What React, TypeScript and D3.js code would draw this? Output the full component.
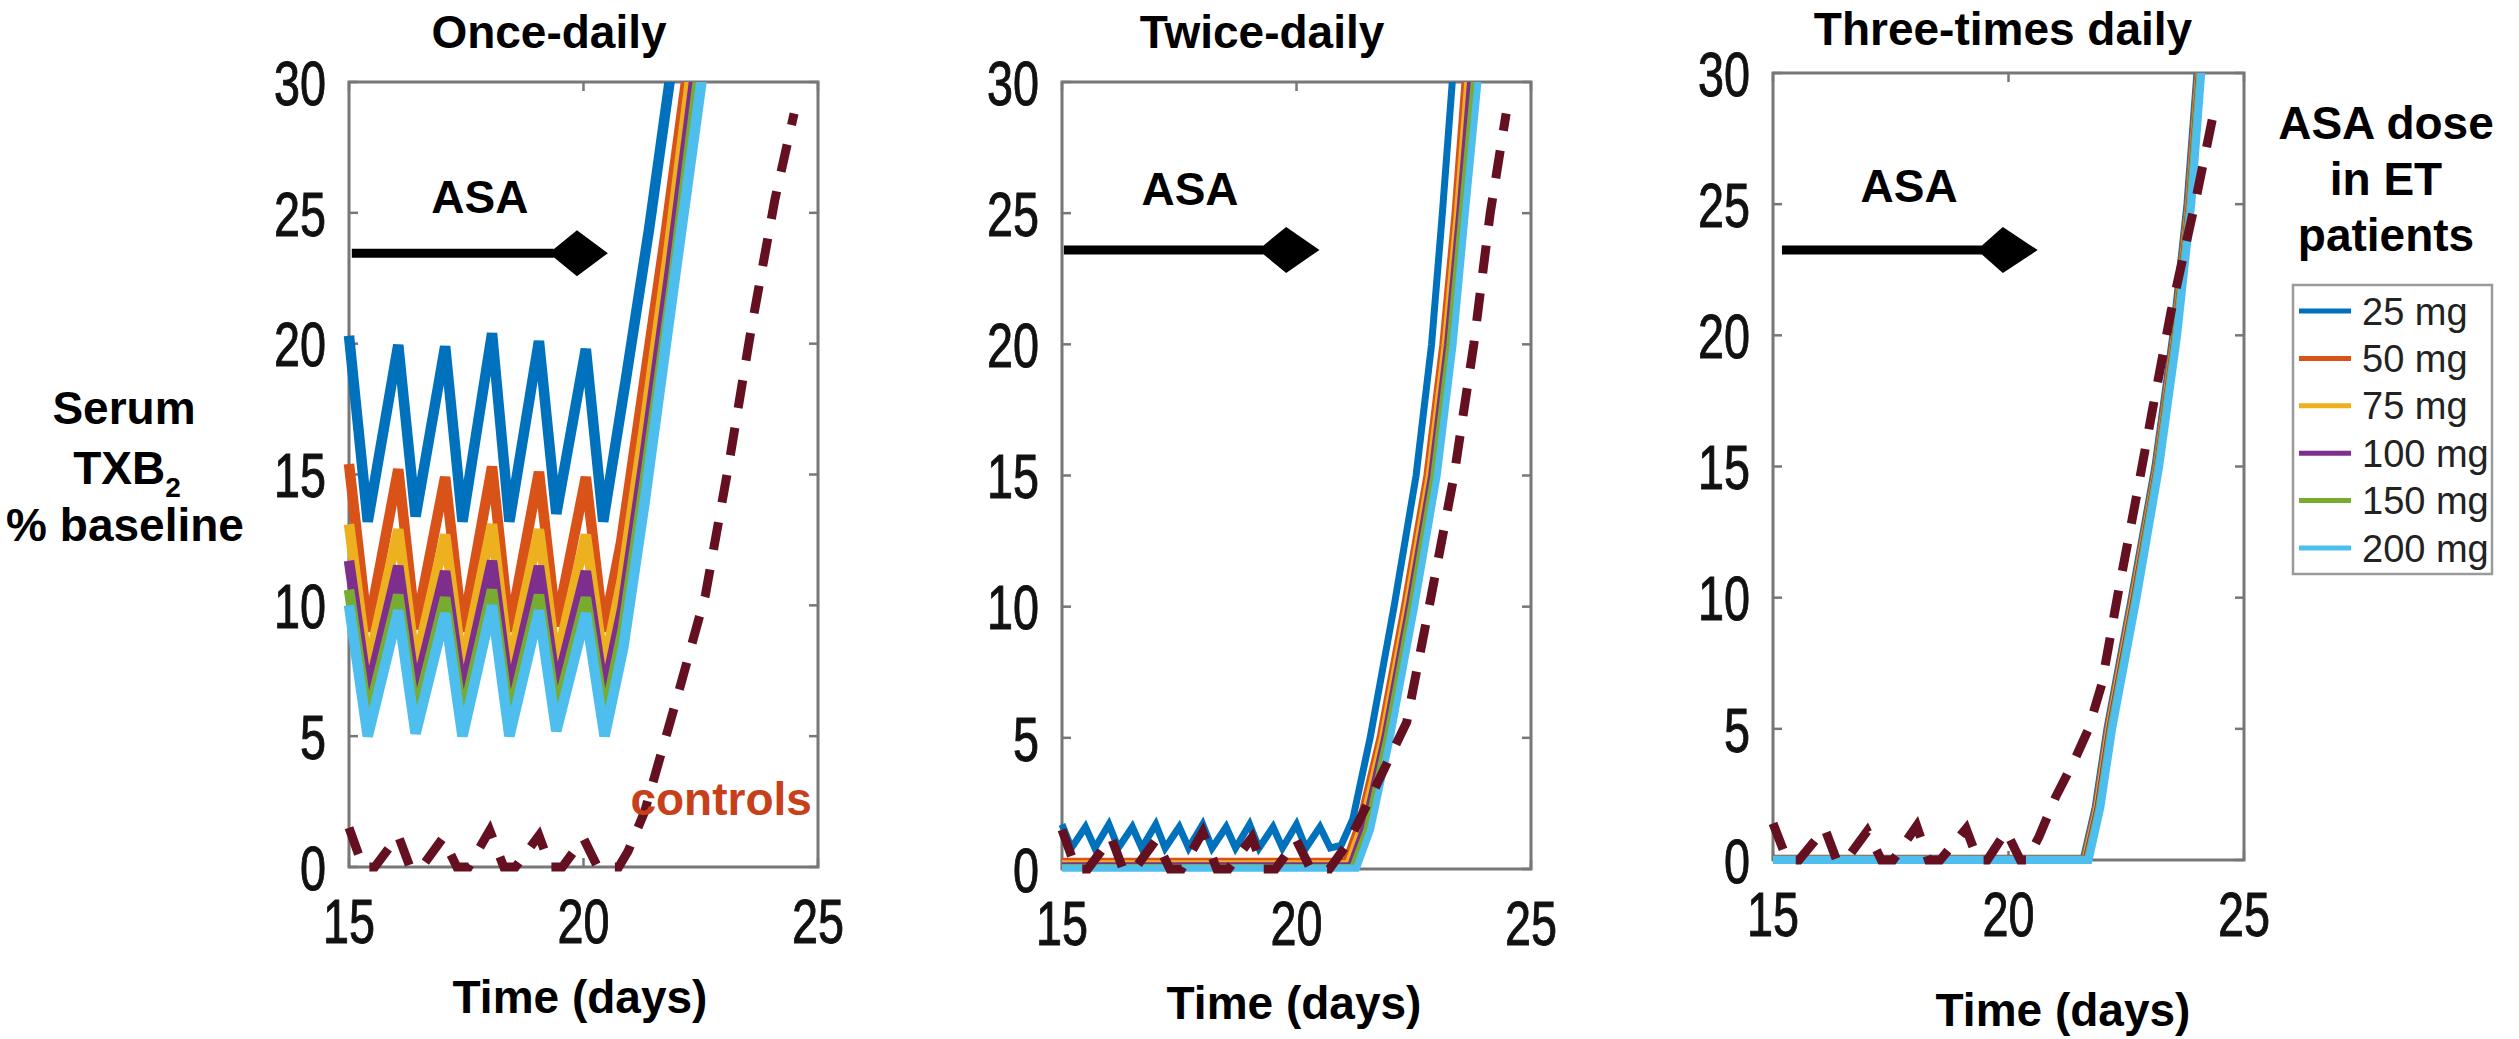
import React from 'react';
import * as d3 from 'd3';

type Pt = [number, number];

// ---------- data ----------
const doseLabels = ['25 mg', '50 mg', '75 mg', '100 mg', '150 mg', '200 mg'];
const doseColors = ['#0072BD', '#D95319', '#EDB120', '#7E2F8E', '#77AC30', '#4DBEEE'];
const panelTitles = ['Once-daily', 'Twice-daily', 'Three-times daily'];
const xTickValues = [15, 20, 25];
const yTickValues = [0, 5, 10, 15, 20, 25, 30];
const xDomain: Pt = [15, 25];
const yDomain: Pt = [0, 30];

// Once-daily
const once25: Pt[] = [[15.0, 20.3], [15.4, 13.2], [16.05, 19.95], [16.42, 13.4], [17.05, 19.9], [17.42, 13.2], [18.05, 20.4], [18.42, 13.2], [19.05, 20.1], [19.42, 13.5], [20.05, 19.8], [20.42, 13.2], [20.9, 18.6], [21.4, 24.4], [21.85, 30.2]];
const once50: Pt[] = [[15.0, 15.4], [15.4, 9.0], [16.05, 15.2], [16.42, 9.1], [17.05, 14.9], [17.42, 9.0], [18.05, 15.3], [18.42, 9.0], [19.05, 15.1], [19.42, 9.2], [20.05, 14.9], [20.43, 9.0], [20.8, 12.4], [21.3, 18.6], [21.75, 24.2], [22.2, 30.2]];
const once75: Pt[] = [[15.0, 13.1], [15.4, 7.6], [16.05, 12.9], [16.42, 7.7], [17.05, 12.7], [17.42, 7.6], [18.05, 13.1], [18.42, 7.6], [19.05, 12.9], [19.42, 7.8], [20.05, 12.7], [20.44, 7.6], [20.82, 11.0], [21.3, 16.9], [21.8, 23.4], [22.28, 30.2]];
const once100: Pt[] = [[15.0, 11.7], [15.4, 6.6], [16.05, 11.5], [16.42, 6.7], [17.05, 11.3], [17.42, 6.6], [18.05, 11.7], [18.42, 6.6], [19.05, 11.5], [19.42, 6.8], [20.05, 11.3], [20.44, 6.6], [20.83, 9.9], [21.3, 15.7], [21.85, 22.9], [22.37, 30.2]];
const once150: Pt[] = [[15.0, 10.6], [15.4, 5.7], [16.05, 10.4], [16.42, 5.8], [17.05, 10.3], [17.42, 5.7], [18.05, 10.6], [18.42, 5.7], [19.05, 10.4], [19.42, 5.9], [20.05, 10.3], [20.45, 5.7], [20.84, 9.1], [21.3, 14.7], [21.9, 22.4], [22.45, 30.2]];
const once200: Pt[] = [[15.0, 10.0], [15.4, 5.0], [16.05, 9.8], [16.42, 5.1], [17.05, 9.7], [17.42, 5.0], [18.05, 10.0], [18.42, 5.0], [19.05, 9.8], [19.42, 5.2], [20.05, 9.7], [20.45, 5.0], [20.85, 8.4], [21.3, 13.9], [21.9, 21.9], [22.53, 30.2]];

// Twice-daily
const twice25: Pt[] = [[15.0, 1.7], [15.2, 0.8], [15.5, 1.6], [15.7, 0.8], [16.0, 1.7], [16.2, 0.8], [16.5, 1.6], [16.7, 0.8], [17.0, 1.7], [17.2, 0.8], [17.5, 1.6], [17.7, 0.8], [18.0, 1.7], [18.2, 0.8], [18.5, 1.6], [18.7, 0.8], [19.0, 1.7], [19.2, 0.8], [19.5, 1.6], [19.7, 0.8], [20.0, 1.7], [20.2, 0.8], [20.5, 1.6], [20.72, 0.8], [20.95, 0.9], [21.2, 1.9], [21.57, 5], [22.08, 10], [22.55, 15], [22.88, 20], [23.11, 25], [23.33, 30.2]];
const twice50: Pt[] = [[15, 0.3], [21.05, 0.3], [21.35, 1.8], [21.78, 5], [22.3, 10], [22.78, 15], [23.12, 20], [23.38, 25], [23.6, 30.2]];
const twice75: Pt[] = [[15, 0.2], [21.1, 0.2], [21.4, 1.7], [21.83, 5], [22.35, 10], [22.83, 15], [23.17, 20], [23.43, 25], [23.66, 30.2]];
const twice100: Pt[] = [[15, 0.12], [21.15, 0.12], [21.45, 1.6], [21.88, 5], [22.4, 10], [22.88, 15], [23.22, 20], [23.48, 25], [23.72, 30.2]];
const twice150: Pt[] = [[15, 0.06], [21.2, 0.06], [21.5, 1.5], [21.93, 5], [22.45, 10], [22.93, 15], [23.27, 20], [23.53, 25], [23.8, 30.2]];
const twice200: Pt[] = [[15, 0.03], [21.28, 0.03], [21.58, 1.5], [22.0, 5], [22.52, 10], [23.0, 15], [23.34, 20], [23.6, 25], [23.88, 30.2]];

// Three-times daily
const thrice25: Pt[] = [[15, 0.05], [21.6, 0.05], [21.85, 2], [22.1, 5], [22.62, 10], [23.12, 15], [23.5, 20], [23.8, 25], [24.02, 30.2]];
const thrice50: Pt[] = [[15, 0.04], [21.62, 0.04], [21.87, 2], [22.12, 5], [22.64, 10], [23.14, 15], [23.52, 20], [23.82, 25], [24.04, 30.2]];
const thrice75: Pt[] = [[15, 0.03], [21.64, 0.03], [21.89, 2], [22.14, 5], [22.66, 10], [23.16, 15], [23.54, 20], [23.84, 25], [24.06, 30.2]];
const thrice100: Pt[] = [[15, 0.02], [21.66, 0.02], [21.91, 2], [22.16, 5], [22.68, 10], [23.17, 15], [23.55, 20], [23.85, 25], [24.07, 30.2]];
const thrice150: Pt[] = [[15, 0.01], [21.68, 0.01], [21.93, 2], [22.18, 5], [22.7, 10], [23.18, 15], [23.56, 20], [23.86, 25], [24.08, 30.2]];
const thrice200: Pt[] = [[15, 0.0], [21.7, 0.0], [21.95, 2], [22.2, 5], [22.72, 10], [23.2, 15], [23.58, 20], [23.88, 25], [24.1, 30.2]];

// Controls (dashed)
const controlsOnce: Pt[] = [[15.0, 1.5], [15.3, 0], [15.55, 0], [16.05, 1.2], [16.3, 0], [16.55, 0], [17.0, 1.1], [17.3, 0], [17.55, 0], [18.0, 1.4], [18.3, 0], [18.55, 0], [19.05, 1.2], [19.3, 0], [19.55, 0], [20.0, 1.1], [20.3, 0], [20.75, 0], [20.95, 0.6], [21.3, 2.1], [22.0, 6.5], [22.6, 10.4], [23.1, 15.4], [23.57, 20.5], [24.08, 25.5], [24.49, 28.8]];
const controlsTwice: Pt[] = [[15.0, 1.5], [15.3, 0], [15.55, 0], [16.05, 1.2], [16.3, 0], [16.55, 0], [17.0, 1.1], [17.3, 0], [17.55, 0], [18.0, 1.4], [18.3, 0], [18.55, 0], [19.05, 1.2], [19.3, 0], [19.55, 0], [20.0, 1.1], [20.3, 0], [20.7, 0], [21.1, 1.0], [21.6, 2.8], [22.0, 4.3], [22.35, 5.6], [22.85, 10.2], [23.36, 15.0], [23.78, 20.0], [24.13, 25.0], [24.47, 28.8]];
const controlsThrice: Pt[] = [[15.0, 1.4], [15.3, 0], [15.55, 0], [16.1, 1.2], [16.35, 0], [16.55, 0], [17.0, 1.1], [17.3, 0], [17.55, 0], [18.05, 1.3], [18.3, 0], [18.55, 0], [19.1, 1.2], [19.35, 0], [19.55, 0], [19.95, 1.1], [20.25, 0], [20.4, 0], [20.65, 0.9], [21.0, 2.4], [21.4, 3.8], [21.7, 5.0], [21.98, 6.7], [22.32, 10.1], [22.69, 13.6], [23.05, 17.1], [23.45, 20.9], [23.98, 25.2], [24.38, 28.7]];

const panelSeries: Pt[][][] = [
  [once25, once50, once75, once100, once150, once200],
  [twice25, twice50, twice75, twice100, twice150, twice200],
  [thrice25, thrice50, thrice75, thrice100, thrice150, thrice200],
];
const panelControls: Pt[][] = [controlsOnce, controlsTwice, controlsThrice];

// ASA treatment arrow annotation (data coords)
const asaArrowStart = [15.06, 15.04, 15.19];
const asaDiamondLeft = [19.26, 19.18, 19.33];
const asaDiamondMid = [19.86, 19.78, 19.88];
const asaDiamondTip = [20.52, 20.49, 20.62];
const asaArrowLevel = [23.46, 23.6, 23.25];
const asaTextX = [17.79, 17.73, 17.89];
const asaTextY = [25.0, 25.3, 25.1];
const controlsLabel = { text: 'controls', x: 21.0, y: 2.0 };

// ---------- layout / style ----------
const W = 2519;
const H = 1039;
const FONT = '"Liberation Sans", Arial, Helvetica, sans-serif';
const layout = [
  { left: 349, right: 818, top: 82, bottom: 867, titleX: 549, titleY: 48, xlabX: 580, xlabY: 1013, lw: 10.5 },
  { left: 1062, right: 1531, top: 82, bottom: 869, titleX: 1262, titleY: 48, xlabX: 1294, xlabY: 1019, lw: 7 },
  { left: 1773, right: 2244, top: 73, bottom: 860, titleX: 2003, titleY: 45, xlabX: 2063, xlabY: 1026, lw: 8 },
];
const frameColor = '#777777';
const controlsColor = '#651020';
const tickFont = 63;
const tickCharW = 26;

function Panel({ i }: { i: number }) {
  const L = layout[i];
  const x = d3.scaleLinear().domain(xDomain).range([L.left, L.right]);
  const y = d3.scaleLinear().domain(yDomain).range([L.bottom, L.top]);
  const line = d3.line<Pt>().x((d) => x(d[0])).y((d) => y(d[1]));
  const clipId = `clip${i}`;
  const ay = y(asaArrowLevel[i]);
  const dh = 23;
  const diamond = `M${x(asaDiamondLeft[i])},${ay} L${x(asaDiamondMid[i])},${ay - dh} L${x(asaDiamondTip[i])},${ay} L${x(asaDiamondMid[i])},${ay + dh} Z`;
  return (
    <g>
      <defs>
        <clipPath id={clipId}>
          <rect x={L.left - 6} y={L.top} width={L.right - L.left + 12} height={L.bottom - L.top + 8} />
        </clipPath>
      </defs>
      {/* frame */}
      <rect x={L.left} y={L.top} width={L.right - L.left} height={L.bottom - L.top} fill="white" stroke={frameColor} strokeWidth={3} />
      {yTickValues.map((v) => (
        <g key={'yt' + v}>
          <line x1={L.left} x2={L.left + 9} y1={y(v)} y2={y(v)} stroke={frameColor} strokeWidth={2.5} />
          <line x1={L.right - 9} x2={L.right} y1={y(v)} y2={y(v)} stroke={frameColor} strokeWidth={2.5} />
          <text x={L.left - 23} y={y(v)} dy="0.36em" textAnchor="end" fontSize={tickFont} textLength={String(v).length * tickCharW} lengthAdjust="spacingAndGlyphs" fill="#111" stroke="#111" strokeWidth={1}>{v}</text>
        </g>
      ))}
      {xTickValues.map((v) => (
        <g key={'xt' + v}>
          <line x1={x(v)} x2={x(v)} y1={L.bottom} y2={L.bottom - 9} stroke={frameColor} strokeWidth={2.5} />
          <line x1={x(v)} x2={x(v)} y1={L.top} y2={L.top + 9} stroke={frameColor} strokeWidth={2.5} />
          <text x={x(v)} y={L.bottom + 53} dy="0.36em" textAnchor="middle" fontSize={tickFont} textLength={String(v).length * tickCharW} lengthAdjust="spacingAndGlyphs" fill="#111" stroke="#111" strokeWidth={1}>{v}</text>
        </g>
      ))}
      {/* series */}
      <g clipPath={`url(#${clipId})`}>
        {panelSeries[i].map((s, k) => (
          <path key={k} d={line(s) || ''} fill="none" stroke={doseColors[k]} strokeWidth={L.lw} strokeLinejoin="miter" strokeMiterlimit={3} />
        ))}
        <path d={line(panelControls[i]) || ''} fill="none" stroke={controlsColor} strokeWidth={9} strokeDasharray="28 20" />
      </g>
      {/* ASA arrow */}
      <line x1={x(asaArrowStart[i])} x2={x(asaDiamondLeft[i]) + 5} y1={ay} y2={ay} stroke="black" strokeWidth={9} />
      <path d={diamond} fill="black" />
      <text x={x(asaTextX[i])} y={y(asaTextY[i])} textAnchor="middle" fontSize={46} fontWeight="bold">ASA</text>
      {/* titles */}
      <text x={L.titleX} y={L.titleY} textAnchor="middle" fontSize={46} fontWeight="bold">{panelTitles[i]}</text>
      <text x={L.xlabX} y={L.xlabY} textAnchor="middle" fontSize={46} fontWeight="bold">Time (days)</text>
      {i === 0 && (
        <text x={x(controlsLabel.x)} y={y(controlsLabel.y)} fontSize={46} fontWeight="bold" fill="#C8401A">{controlsLabel.text}</text>
      )}
    </g>
  );
}

function Legend() {
  const lx = 2293, ly = 285, lw = 199, lh = 289;
  const row0 = 311, rowStep = 47.4;
  return (
    <g>
      <text x={2386} y={139} textAnchor="middle" fontSize={46} fontWeight="bold">ASA dose</text>
      <text x={2386} y={195} textAnchor="middle" fontSize={46} fontWeight="bold">in ET</text>
      <text x={2386} y={251} textAnchor="middle" fontSize={46} fontWeight="bold">patients</text>
      <rect x={lx} y={ly} width={lw} height={lh} fill="white" stroke="#9a9a9a" strokeWidth={2.5} />
      {doseLabels.map((d, k) => (
        <g key={d}>
          <line x1={2299} x2={2351} y1={row0 + k * rowStep} y2={row0 + k * rowStep} stroke={doseColors[k]} strokeWidth={5} />
          <text x={2362} y={row0 + k * rowStep} dy="0.36em" fontSize={38} fill="#222">{d}</text>
        </g>
      ))}
    </g>
  );
}

export default function App() {
  return (
    <svg width={W} height={H} viewBox={`0 0 ${W} ${H}`} style={{ position: 'absolute', left: 0, top: 0, background: 'white' }} fontFamily={FONT}>
      <rect x={0} y={0} width={W} height={H} fill="white" />
      <g>
        <text x={124} y={424} textAnchor="middle" fontSize={46} fontWeight="bold">Serum</text>
        <text x={127} y={484} textAnchor="middle" fontSize={46} fontWeight="bold">TXB<tspan fontSize={28} dy={13}>2</tspan></text>
        <text x={125} y={541} textAnchor="middle" fontSize={46} fontWeight="bold">% baseline</text>
      </g>
      {[0, 1, 2].map((i) => <Panel key={i} i={i} />)}
      <Legend />
    </svg>
  );
}
